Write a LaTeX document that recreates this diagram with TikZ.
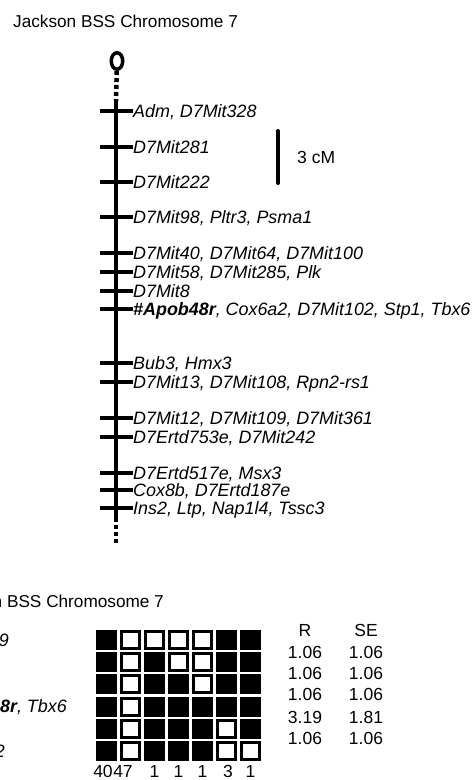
\documentclass[tikz,border=0pt]{standalone}
\usepackage{fontspec}
\setmainfont{Liberation Sans}
\usetikzlibrary{positioning,shapes.geometric}

\tikzset{
  txt/.style={inner sep=0pt, font=\fontsize{17.5}{20}\selectfont},
  head/.style={inner sep=0pt, font=\fontsize{17.2}{20}\selectfont},
  locus/.style={txt, anchor=west, text height=12.5pt, text depth=0pt, font=\fontsize{17.9}{20}\selectfont\itshape},
  tickmk/.style={line width=3.5pt},
  chrom/.style={line width=4pt},
  dotline/.style={line width=4.5pt, dash pattern=on 4pt off 3pt},
  cell1/.style={fill=black, inner sep=0pt, minimum width=21pt, minimum height=20pt},
  cell0/.style={draw=black, fill=white, line width=3pt, inner sep=0pt, minimum width=18pt, minimum height=17pt}
}

\begin{document}
\begin{tikzpicture}[x=1pt,y=-1pt]
\useasboundingbox (0,0) rectangle (475,780);
\clip (0,0) rectangle (475,780);

% upper panel: the map
\node[head, anchor=base west] (title) at (13,27) {Jackson BSS Chromosome 7};
\node[draw, ellipse, line width=3.5pt, minimum width=11.5pt, minimum height=16.5pt, inner sep=0pt] (cen) at (117,61) {};
\coordinate (ctop) at (116,101);
\coordinate (cbot) at (116,518);
\coordinate (cend) at (116,545);
\draw[dotline] (cen) -- (ctop);
\draw[chrom] (ctop) -- (cbot);
\draw[dotline] (cbot) -- (cend);

\foreach \y/\t [count=\i] in {
  111/{Adm, D7Mit328},
  147/{D7Mit281},
  182/{D7Mit222},
  217/{D7Mit98, Pltr3, Psma1},
  253/{D7Mit40, D7Mit64, D7Mit100},
  272/{D7Mit58, D7Mit285, Plk},
  291/{D7Mit8},
  309/{{\bfseries\#Apob48r}, Cox6a2, D7Mit102, Stp1, Tbx6},
  363/{Bub3, Hmx3},
  382/{D7Mit13, D7Mit108, Rpn2-rs1},
  418/{D7Mit12, D7Mit109, D7Mit361},
  437/{D7Ertd753e, D7Mit242},
  473/{D7Ertd517e, Msx3},
  490/{Cox8b, D7Ertd187e},
  508/{Ins2, Ltp, Nap1l4, Tssc3}} {
  \node[locus] (loc\i) at (133,\y) {\t};
  \draw[tickmk] (100,\y) -- (loc\i.west);
}

% scale bar
\coordinate (bartop) at (278,131);
\coordinate (barbot) at (278,183);
\draw[chrom, line cap=round] (bartop) -- (barbot);
\node[txt, anchor=west] (cm) at (297,157) {3 cM};

% lower panel: haplotypes
\node[head, anchor=base west] (title2) at (-61,607) {Jackson BSS Chromosome 7};
\node[locus, anchor=east] (frag1) at (9,640) {D7Mit109};
\node[locus, anchor=east] (frag2) at (67,706) {{\bfseries\#Apob48r}, Tbx6};
\node[locus, anchor=east] (frag3) at (5,751) {D7Mit242};

\foreach \c/\col in {0/{1,1,1,1,1,1}, 1/{0,0,0,0,0,0}, 2/{0,1,1,1,1,1},
  3/{0,0,1,1,1,1}, 4/{0,0,0,1,1,1}, 5/{1,1,1,1,0,0}, 6/{1,1,1,1,1,0}} {
  \foreach \v [count=\r from 0] in \col {
    \node[cell\v] (h\c-\r) at (106.5+24*\c, 640+22.2*\r) {};
  }
}

\foreach \n/\x [count=\i] in {40/103, 47/123, 1/154.5, 1/178.5, 1/202.5, 3/228, 1/250.5}
  \node[txt] (cnt\i) at (\x,771) {\n};

\node[txt] (rhead) at (305,630) {R};
\node[txt] (sehead) at (366,630) {SE};
\foreach \y/\r/\s [count=\i] in {652/1.06/1.06, 673/1.06/1.06, 694/1.06/1.06, 717/3.19/1.81, 738/1.06/1.06} {
  \node[txt] (r\i) at (305,\y) {\r};
  \node[txt] (se\i) at (366,\y) {\s};
}
\end{tikzpicture}
\end{document}
